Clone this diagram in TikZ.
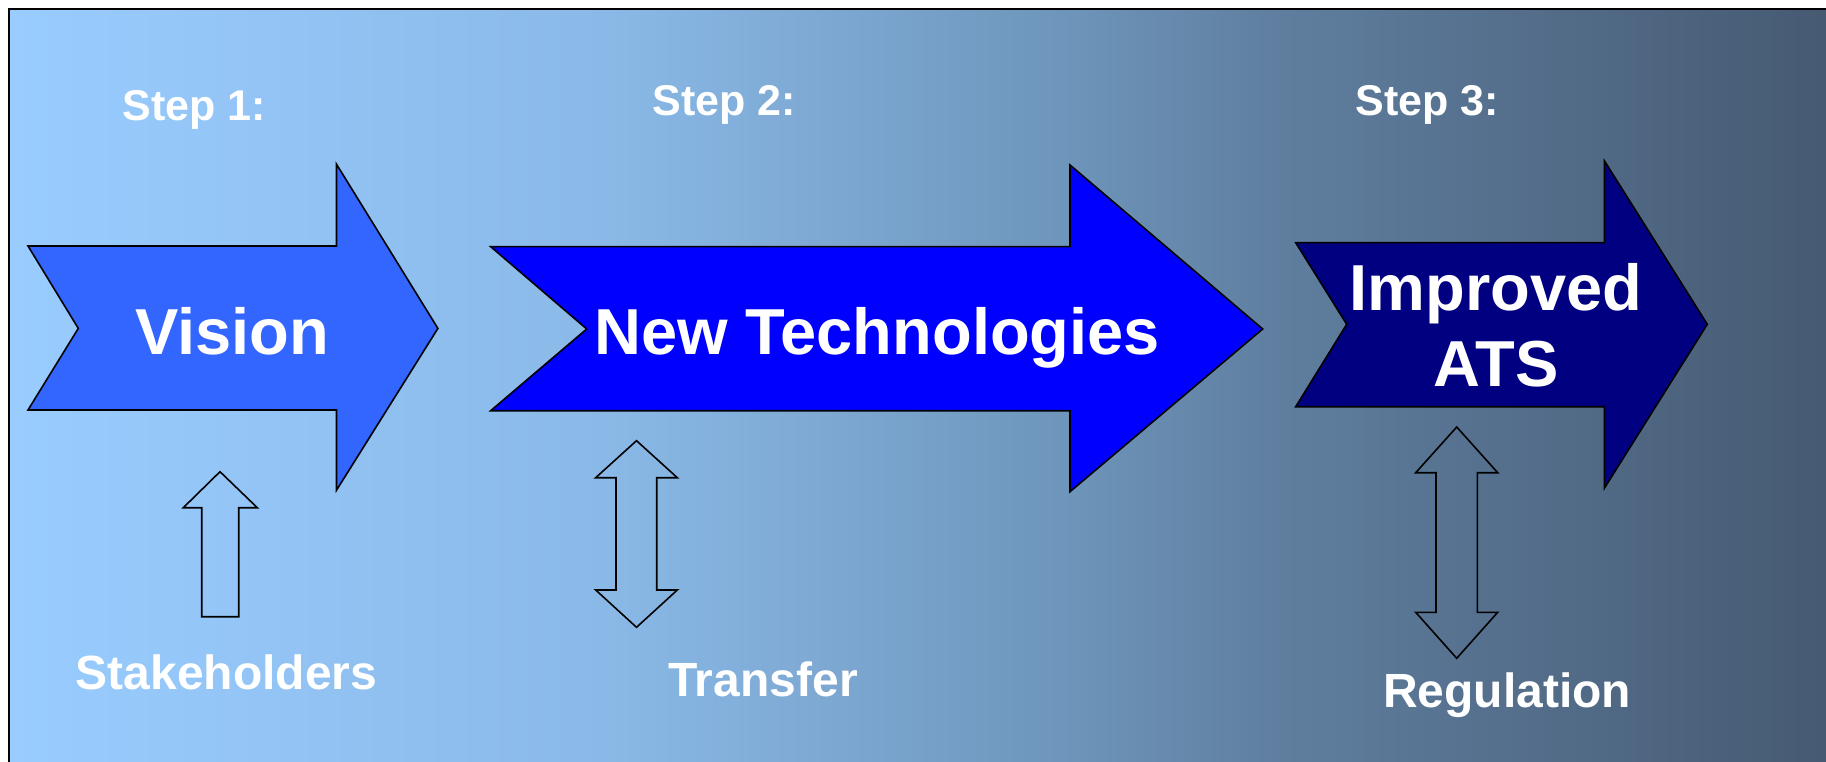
\documentclass[tikz,border=0pt]{standalone}
\usepackage{fontspec}
\setmainfont{Liberation Sans}
\usepackage{tikz}
\definecolor{visionblue}{HTML}{3366FF}
\definecolor{techblue}{HTML}{0000FF}
\definecolor{atsnavy}{HTML}{000080}
\definecolor{bgA}{HTML}{99CCFF}
\definecolor{bgB}{HTML}{8AB9E7}
\definecolor{bgC}{HTML}{6F97BD}
\definecolor{bgD}{HTML}{5F7E9F}
\definecolor{bgE}{HTML}{465A72}
\pgfdeclarehorizontalshading{slidebg}{100bp}{color(0bp)=(bgA); color(25bp)=(bgA); color(41.5bp)=(bgB); color(53.5bp)=(bgC); color(60bp)=(bgD); color(75bp)=(bgE); color(100bp)=(bgE)}
\newcommand{\slidell}[0]{(9, 762)}
\newcommand{\slideul}[0]{(9, 9)}
\newcommand{\slideur}[0]{(1826, 9)}
\tikzset{
  steplabel/.style={text=white, font=\fontsize{43}{50}\selectfont\bfseries, anchor=base, inner sep=0pt},
  biglabel/.style={text=white, font=\fontsize{65}{76}\selectfont\bfseries, anchor=base, inner sep=0pt},
  sidelabel/.style={text=white, font=\fontsize{48}{56}\selectfont\bfseries, anchor=base, inner sep=0pt},
  blockarrow/.style={draw=black, line width=1.6pt, line join=miter},
  hollowarrow/.style={draw=black, line width=1.6pt, line join=miter}
}
\begin{document}
\begin{tikzpicture}[x=1pt, y=-1pt]
\useasboundingbox (0,0) rectangle (1826,762);
\shade[shading=slidebg] \slideul{} rectangle (1826,762);
\draw [line width=2.8pt] \slidell{} -- \slideul{} -- \slideur{};
% the three steps
\filldraw [blockarrow, fill=visionblue] (28,246) -- (336.5,246) -- (336.5,164.2) -- (437.9,328.4) -- (336.5,490.2) -- (336.5,410) -- (28,410) -- (78.3,328.4) -- cycle;
\filldraw [blockarrow, fill=techblue] (490.7,246.7) -- (1070,246.7) -- (1070,165) -- (1262.7,329) -- (1070,491.7) -- (1070,410.7) -- (490.7,410.7) -- (586.7,329) -- cycle;
\filldraw [blockarrow, fill=atsnavy] (1295.7,242.7) -- (1604.3,242.7) -- (1604.3,160.7) -- (1707.3,324.3) -- (1604.3,488.3) -- (1604.3,406.7) -- (1295.7,406.7) -- (1346.7,324.3) -- cycle;
% hollow arrows underneath
\draw [hollowarrow] (220,471.7) -- (257.3,507.7) -- (238.7,507.7) -- (238.7,616.7) -- (201.7,616.7) -- (201.7,507.7) -- (183.3,507.7) -- cycle;
\draw [hollowarrow] (636.5,440.7) -- (677.3,477.7) -- (656.7,477.7) -- (656.7,590) -- (677.3,590) -- (636.5,627.3) -- (595.7,590) -- (616,590) -- (616,477.7) -- (595.7,477.7) -- cycle;
\draw [hollowarrow] (1456.7,427) -- (1497.7,472.7) -- (1477.3,472.7) -- (1477.3,612.3) -- (1497.7,612.3) -- (1456.7,658.3) -- (1415.7,612.3) -- (1436,612.3) -- (1436,472.7) -- (1415.7,472.7) -- cycle;
% labels
\node [steplabel] (step1) at (194,121) {Step 1:};
\node [steplabel] (step2) at (724,116) {Step 2:};
\node [steplabel] (step3) at (1427,116) {Step 3:};
\node [biglabel] (vision) at (232,354) {Vision};
\node [biglabel] (newtech) at (877,354) {New Technologies};
\node [biglabel, align=center] (ats) at (1496,386.7) {Improved\\ATS};
\node [sidelabel] (stakeholders) at (226.5,689) {Stakeholders};
\node [sidelabel] (transfer) at (763,696) {Transfer};
\node [sidelabel] (regulation) at (1507,707) {Regulation};
\end{tikzpicture}
\end{document}
